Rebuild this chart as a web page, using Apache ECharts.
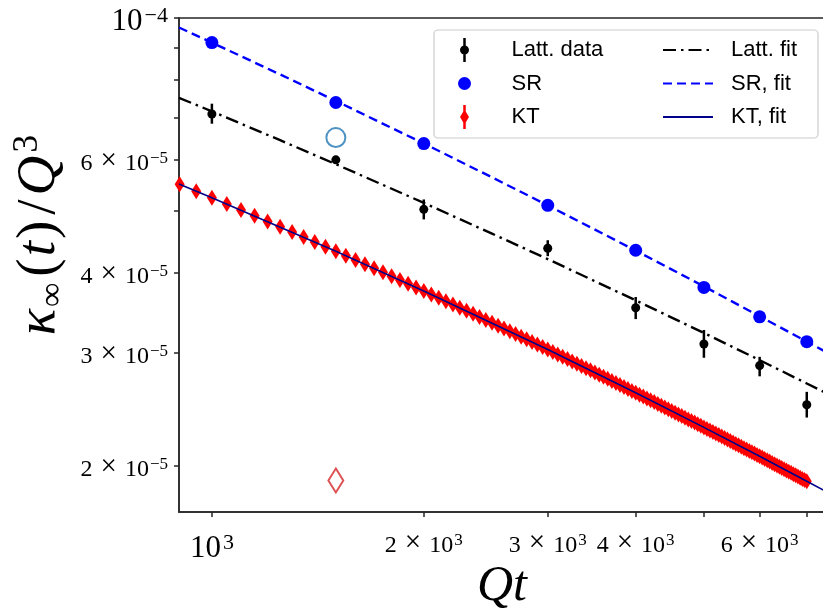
<!DOCTYPE html>
<html>
<head>
    <meta charset="utf-8">
    <title>kappa</title>
    <script src="https://cdn.jsdelivr.net/npm/echarts@6/dist/echarts.min.js"></script>
    <style>
        html, body { margin: 0; padding: 0; background: #fff; }
        #main { width: 823px; height: 614px; }
    </style>
</head>
<body>
<div id="main"></div>
<script>
    // all kappa values are in units of 1e-5
    var E5 = 1e-5;

    var qt = [1000, 1500, 2000, 3000, 4000, 5000, 6000, 7000];
    var lattVal = [7.084, 6.007, 5.029, 4.373, 3.531, 3.100, 2.868, 2.492];
    var lattLo = [6.84, 5.93, 4.85, 4.25, 3.39, 2.95, 2.76, 2.38];
    var lattHi = [7.35, 6.08, 5.21, 4.50, 3.67, 3.26, 2.96, 2.61];
    var srVal = [9.154, 7.381, 6.369, 5.101, 4.341, 3.799, 3.418, 3.126];

    var fitQt = [898, 1000, 1250, 1500, 2000, 2500, 3000, 4000, 5000, 6000, 7000, 7430];
    var lattFit = [7.508, 7.150, 6.447, 5.914, 5.147, 4.608, 4.205, 3.626, 3.225, 2.925, 2.690, 2.604];
    var srFit = [9.664, 9.154, 8.165, 7.423, 6.371, 5.641, 5.101, 4.336, 3.813, 3.425, 3.126, 3.017];

    var ktQt = [
        900, 950, 1000, 1050, 1100, 1150, 1200, 1250, 1300, 1350,
        1400, 1450, 1500, 1550, 1600, 1650, 1700, 1750, 1800, 1850,
        1900, 1950, 2000, 2050, 2100, 2150, 2200, 2250, 2300, 2350,
        2400, 2450, 2500, 2550, 2600, 2650, 2700, 2750, 2800, 2850,
        2900, 2950, 3000, 3050, 3100, 3150, 3200, 3250, 3300, 3350,
        3400, 3450, 3500, 3550, 3600, 3650, 3700, 3750, 3800, 3850,
        3900, 3950, 4000, 4050, 4100, 4150, 4200, 4250, 4300, 4350,
        4400, 4450, 4500, 4550, 4600, 4650, 4700, 4750, 4800, 4850,
        4900, 4950, 5000, 5050, 5100, 5150, 5200, 5250, 5300, 5350,
        5400, 5450, 5500, 5550, 5600, 5650, 5700, 5750, 5800, 5850,
        5900, 5950, 6000, 6050, 6100, 6150, 6200, 6250, 6300, 6350,
        6400, 6450, 6500, 6550, 6600, 6650, 6700, 6750, 6800, 6850,
        6900, 6950, 7000
    ];
    var ktVal = [
        5.502, 5.368, 5.243, 5.126, 5.016, 4.913, 4.815, 4.723, 4.635, 4.552,
        4.473, 4.398, 4.326, 4.257, 4.191, 4.128, 4.068, 4.010, 3.954, 3.900,
        3.848, 3.798, 3.750, 3.704, 3.659, 3.615, 3.573, 3.532, 3.492, 3.454,
        3.416, 3.380, 3.345, 3.310, 3.277, 3.245, 3.213, 3.182, 3.152, 3.123,
        3.094, 3.066, 3.039, 3.012, 2.986, 2.961, 2.936, 2.912, 2.888, 2.865,
        2.842, 2.820, 2.798, 2.776, 2.755, 2.735, 2.715, 2.695, 2.675, 2.656,
        2.638, 2.619, 2.601, 2.584, 2.566, 2.549, 2.532, 2.516, 2.499, 2.483,
        2.468, 2.452, 2.437, 2.422, 2.407, 2.393, 2.379, 2.364, 2.351, 2.337,
        2.324, 2.310, 2.297, 2.284, 2.272, 2.259, 2.247, 2.235, 2.223, 2.211,
        2.199, 2.188, 2.176, 2.165, 2.154, 2.143, 2.132, 2.122, 2.111, 2.101,
        2.091, 2.081, 2.071, 2.061, 2.051, 2.041, 2.032, 2.022, 2.013, 2.004,
        1.995, 1.986, 1.977, 1.968, 1.959, 1.951, 1.942, 1.934, 1.926, 1.917,
        1.909, 1.901, 1.893
    ];
    var ktFitQt = [898, 1000, 1500, 2000, 3000, 4000, 5000, 6000, 7000, 7430];
    var ktFit = [5.508, 5.243, 4.326, 3.750, 3.039, 2.601, 2.297, 2.071, 1.893, 1.828];

    // the two open markers at Qt = 1500
    var srOpen = [1500, 6.507];
    var ktOpen = [1500, 1.898];

    var xTicks = [1000, 2000, 3000, 4000, 5000, 6000, 7000];
    var xLabels = [1000, 2000, 3000, 4000, 6000];
    var yTicks = [2, 3, 4, 5, 6, 7, 8, 9, 10];
    var yLabels = [2, 3, 4, 6, 10];

    function pairs(xs, ys) {
        return xs.map(function (x, i) { return [x, ys[i] * E5]; });
    }
    function scaled(a) {
        return a.map(function (v) { return v * E5; });
    }

    var serif = 'Liberation Serif';
    var sans = 'Liberation Sans';

    function sciLabel(v) {
        var ex = Math.floor(Math.log10(v) + 1e-9);
        var m = Math.round(v / Math.pow(10, ex));
        var es = String(ex).replace('-', '\u2212');
        if (m === 1) return '{big|10}{bigSup|' + es + '}';
        return '{sm|' + m + ' }{tx|\u00d7}{sm| 10}{smSup|' + es + '}';
    }
    function makeRich(bigPad, smPad) {
        return {
            big: { fontFamily: serif, fontSize: 31, lineHeight: 32, verticalAlign: 'bottom', color: '#000', padding: bigPad },
            bigSup: { fontFamily: serif, fontSize: 22, lineHeight: 20, verticalAlign: 'top', color: '#000', padding: [0, 0, 0, 2] },
            sm: { fontFamily: serif, fontSize: 24, lineHeight: 26, verticalAlign: 'bottom', color: '#000', padding: smPad },
            tx: { fontFamily: serif, fontSize: 29, lineHeight: 26, verticalAlign: 'bottom', color: '#000', padding: [smPad[0], 2, 0, 2] },
            smSup: { fontFamily: serif, fontSize: 17, lineHeight: 16, verticalAlign: 'top', color: '#000', padding: [0, 0, 0, 1] }
        };
    }

    var spine = { color: '#262626', width: 1.5 };

    var chart = echarts.init(document.getElementById('main'));

    var option = {
        animation: false,
        backgroundColor: '#fff',
        grid: {
            left: 179, right: -2, top: 18, bottom: 102,
            outerBoundsMode: 'none', containLabel: false,
            show: true, borderColor: '#262626', borderWidth: 1.5
        },
        xAxis: {
            type: 'log', logBase: 10, min: 898, max: 7430,
            name: '{q|Qt}',
            nameLocation: 'middle', nameGap: 50, nameMoveOverlap: false,
            nameTextStyle: {
                rich: { q: { fontFamily: serif, fontStyle: 'italic', fontSize: 50, color: '#000' } }
            },
            axisLine: { show: true, lineStyle: spine },
            axisTick: { show: true, length: 5, customValues: xTicks, lineStyle: spine },
            minorTick: { show: false },
            splitLine: { show: false },
            axisLabel: {
                customValues: xLabels, margin: 20,
                formatter: function (v) { return sciLabel(v); },
                rich: makeRich([8, 0, 0, 0], [2, 0, 0, 0])
            }
        },
        yAxis: {
            type: 'log', logBase: 10, min: 1.695e-5, max: 1e-4,
            name: '{k|\u03ba}{sub|\u221e}{p|(}{k|t}{p|)}{sl|/}{k|Q}{sup|3}',
            nameLocation: 'middle', nameGap: 99, nameRotate: 90,
            nameTextStyle: {
                padding: [0, 0, 0, 60],
                rich: {
                    k: { fontFamily: serif, fontStyle: 'italic', fontSize: 55, lineHeight: 60, color: '#000' },
                    p: { fontFamily: serif, fontSize: 55, lineHeight: 60, color: '#000', padding: [0, 2, 0, 2] },
                    sl: { fontFamily: serif, fontSize: 55, lineHeight: 60, color: '#000', padding: [0, 4, 0, 4] },
                    sub: { fontFamily: serif, fontSize: 34, lineHeight: 30, verticalAlign: 'bottom', color: '#000', padding: [0, 4, 0, 2] },
                    sup: { fontFamily: serif, fontSize: 36, lineHeight: 30, verticalAlign: 'top', color: '#000', padding: [0, 0, 0, 3] }
                }
            },
            axisLine: { show: true, lineStyle: spine },
            axisTick: { show: true, length: 5, customValues: scaled(yTicks), lineStyle: spine },
            minorTick: { show: false },
            splitLine: { show: false },
            axisLabel: {
                customValues: scaled(yLabels), margin: 11, padding: [6, 0, 0, 0],
                formatter: function (v) { return sciLabel(v); },
                rich: makeRich([18, 0, 0, 0], [2, 0, 0, 0])
            }
        },
        graphic: [{
            type: 'rect', z: 5,
            shape: { x: 434, y: 30, width: 384, height: 108, r: 4 },
            style: { fill: 'rgba(255,255,255,0.85)', stroke: '#cccccc', lineWidth: 1.2 }
        }],
        legend: [{
            z: 6, left: 458, top: 38, orient: 'vertical', padding: 0,
            itemWidth: 20, itemHeight: 24, itemGap: 9.5,
            textStyle: { fontFamily: sans, fontSize: 22, color: '#000', lineHeight: 24, padding: [0, 0, 0, 32] },
            data: [
                { name: 'Latt. data', icon: 'path://M3.25,0h2.5v24h-2.5zM0,12a4.5,4.5 0 1,1 9,0a4.5,4.5 0 1,1 -9,0z' },
                { name: 'SR', icon: 'path://M6.5,0M6.5,24M0,12a6.5,6.5 0 1,1 13,0a6.5,6.5 0 1,1 -13,0z' },
                { name: 'KT', icon: 'path://M3.25,0h2.5v24h-2.5zM4.5,4.5L9,12L4.5,19.5L0,12z' }
            ]
        }, {
            z: 6, left: 662, top: 38, orient: 'vertical', padding: 0,
            itemWidth: 50, itemHeight: 14, itemGap: 9.5,
            textStyle: { fontFamily: sans, fontSize: 22, color: '#000', lineHeight: 24, padding: [0, 0, 0, 13] },
            data: ['Latt. fit', 'SR, fit', 'KT, fit']
        }],
        series: [
            {
                name: 'Latt. fit', type: 'line', symbol: 'none',
                data: pairs(fitQt, lattFit),
                lineStyle: { color: '#000', width: 2.4, type: [13, 5, 2.5, 5] },
                itemStyle: { color: '#000', opacity: 0 }
            },
            {
                name: 'SR, fit', type: 'line', symbol: 'none',
                data: pairs(fitQt, srFit),
                lineStyle: { color: '#0000ff', width: 2.4, type: [9, 5] },
                itemStyle: { color: '#0000ff', opacity: 0 }
            },
            {
                name: 'KT', type: 'scatter', symbol: 'diamond', symbolSize: [10, 16],
                data: pairs(ktQt, ktVal),
                itemStyle: { color: '#ff0000', opacity: 1 }
            },
            {
                name: 'KT, fit', type: 'line', symbol: 'none',
                data: pairs(ktFitQt, ktFit),
                lineStyle: { color: '#00008b', width: 1.6 },
                itemStyle: { color: '#00008b', opacity: 0 }
            },
            {
                name: 'Latt. data', type: 'custom',
                data: qt.map(function (x, i) { return [x, lattVal[i] * E5, lattLo[i] * E5, lattHi[i] * E5]; }),
                encode: { x: 0, y: 1 },
                itemStyle: { color: '#000' },
                renderItem: function (params, api) {
                    var x = api.value(0);
                    var p = api.coord([x, api.value(1)]);
                    var lo = api.coord([x, api.value(2)]);
                    var hi = api.coord([x, api.value(3)]);
                    return {
                        type: 'group',
                        children: [
                            { type: 'line', shape: { x1: lo[0], y1: lo[1], x2: hi[0], y2: hi[1] }, style: { stroke: '#000', lineWidth: 2.5 } },
                            { type: 'circle', shape: { cx: p[0], cy: p[1], r: 4.5 }, style: { fill: '#000' } }
                        ]
                    };
                }
            },
            {
                name: 'SR', type: 'scatter', symbol: 'circle', symbolSize: 13,
                data: pairs(qt, srVal),
                itemStyle: { color: '#0000ff', opacity: 1 }
            },
            {
                name: 'SR open', type: 'scatter', symbol: 'emptyCircle', symbolSize: 19,
                data: [[srOpen[0], srOpen[1] * E5]],
                itemStyle: { color: '#1f77b4', borderWidth: 2 }
            },
            {
                name: 'KT open', type: 'scatter', symbol: 'emptyDiamond', symbolSize: [15, 24],
                data: [[ktOpen[0], ktOpen[1] * E5]],
                itemStyle: { color: '#d62728', borderWidth: 1.5 }
            }
        ]
    };
    chart.setOption(option);
    window.onresize = chart.resize;
</script>
</body>
</html>
